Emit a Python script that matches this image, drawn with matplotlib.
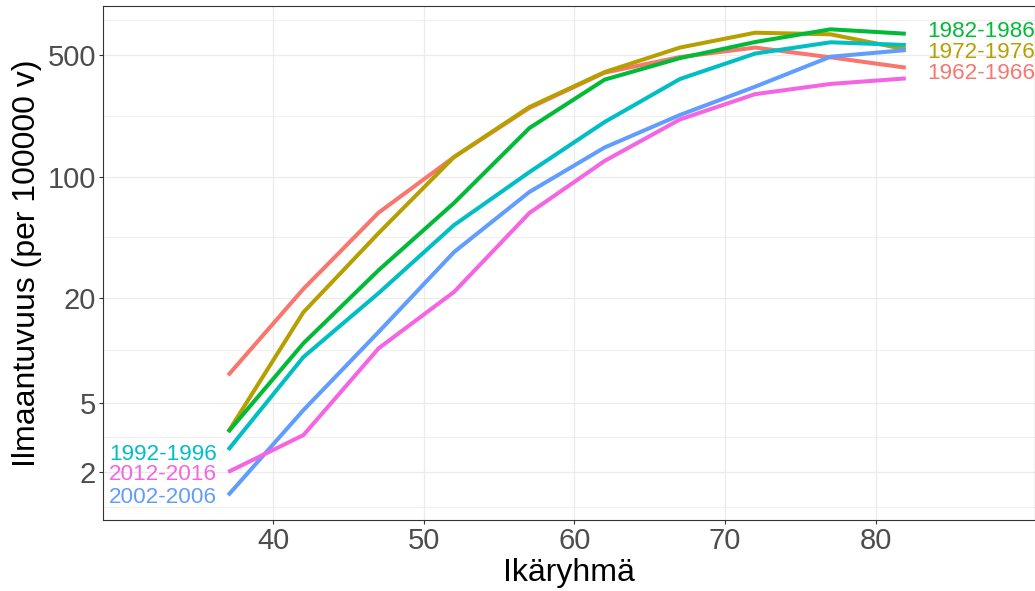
import matplotlib
matplotlib.use("Agg")
import matplotlib.pyplot as plt
import numpy as np

plt.rcParams['font.family'] = ['Liberation Sans', 'DejaVu Sans']

ages = [37, 42, 47, 52, 57, 62, 67, 72, 77, 82]
periods = ["1962-1966", "1972-1976", "1982-1986", "1992-1996", "2002-2006", "2012-2016"]
colors = ["#F8766D", "#B79F00", "#00BA38", "#00BFC4", "#619CFF", "#F564E3"]

rate_1962 = [7.2, 22.6, 62.1, 129.5, 248, 396, 487, 552, 485, 423]
rate_1972 = [3.4, 16.6, 47.4, 129.5, 251, 399, 552, 672, 658, 539]
rate_1982 = [3.4, 11.0, 29.0, 70.5, 190, 361, 480, 594, 703, 663]
rate_1992 = [2.68, 9.17, 21.4, 52.6, 106, 206, 364, 510, 592, 571]
rate_2002 = [1.47, 4.54, 12.8, 36.8, 81.5, 147, 226, 329, 489, 534]
rate_2012 = [2.0, 3.26, 10.3, 21.7, 61.7, 123, 213, 298, 341, 367]
series = [rate_1962, rate_1972, rate_1982, rate_1992, rate_2002, rate_2012]

# label side (right end or left start) and vertical nudge in points
label_side = ["right", "right", "right", "left", "left", "left"]
label_dy = [-4.5, -1.9, 1.3, -3.6, -1.4, -1.6]

y_breaks = [2, 5, 20, 100, 500]
x_breaks = [40, 50, 60, 70, 80]

fig = plt.figure(figsize=(10.35, 5.91), dpi=100)
ax = fig.add_axes([103/1035, (591-520)/591, (1035-103)/1035, 514/591])
ax.set_yscale('log')

# minor breaks like ggplot (midpoints in log space)
lb = np.log10(y_breaks)
bd = lb[1] - lb[0]
ext = np.concatenate([[lb[0] - bd], lb, [lb[-1] + bd]])
minor = 10 ** ((ext[:-1] + ext[1:]) / 2)
for m in minor:
    ax.axhline(m, color='#EBEBEB', lw=0.55, zorder=0)
for b in y_breaks:
    ax.axhline(b, color='#EBEBEB', lw=0.9, zorder=0)
for b in x_breaks:
    ax.axvline(b, color='#EBEBEB', lw=0.9, zorder=0)

for vals, col, side, dy, lab in zip(series, colors, label_side, label_dy, periods):
    ax.plot(ages, vals, color=col, lw=2.9, solid_capstyle='butt', zorder=2)
    if side == "right":
        ax.annotate(lab, xy=(ages[-1], vals[-1]), xytext=(15.8, dy), textcoords='offset points',
                    ha='left', va='center', color=col, fontsize=16.2, annotation_clip=False)
    else:
        ax.annotate(lab, xy=(ages[0], vals[0]), xytext=(-7.9, dy), textcoords='offset points',
                    ha='right', va='center', color=col, fontsize=16.2, annotation_clip=False)

ax.set_xlim(28.69, 90.58)
ax.set_ylim(10 ** 0.025, 10 ** 2.981)
ax.set_xticks(x_breaks)
ax.set_xticklabels([str(x) for x in x_breaks])
ax.set_yticks(y_breaks)
ax.set_yticklabels([str(y) for y in y_breaks])
ax.yaxis.set_minor_locator(matplotlib.ticker.NullLocator())
ax.tick_params(axis='both', which='major', length=3, width=0.8, color='#333333',
               labelcolor='#4D4D4D', labelsize=21, pad=2)
for s in ax.spines.values():
    s.set_color('#333333')
    s.set_linewidth(0.8)

ax.set_xlabel("Ikäryhmä", fontsize=23, color='black', labelpad=2)
ax.set_ylabel("Ilmaantuvuus (per 100000 v)", fontsize=23, color='black', labelpad=4)

fig.savefig("out.png", dpi=100)
